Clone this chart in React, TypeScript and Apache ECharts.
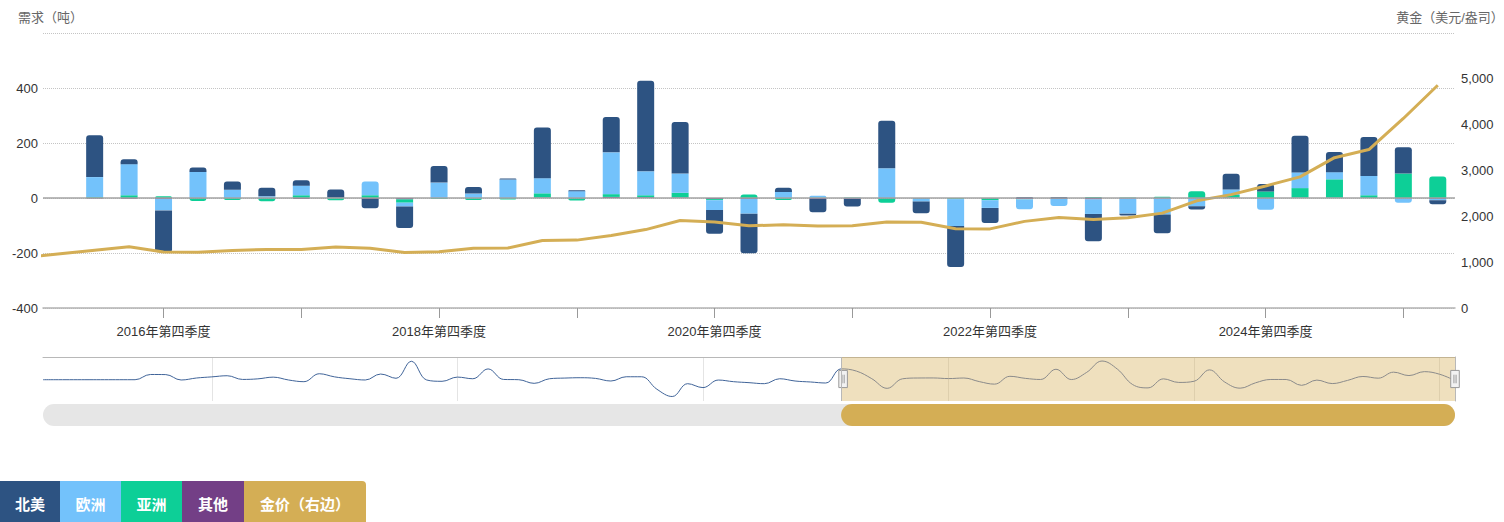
import React, { useEffect, useRef } from 'react';
import * as echarts from 'echarts';

// ---------- data ----------
const QUARTER_NAMES = ['第一季度', '第二季度', '第三季度', '第四季度'];
const FIRST_YEAR = 2003;
const QUARTER_COUNT = 93; // 2003年第一季度 … 2026年第一季度
const categories: string[] = Array.from(
  { length: QUARTER_COUNT },
  (_, i) => `${FIRST_YEAR + Math.floor(i / 4)}年${QUARTER_NAMES[i % 4]}`
);

// visible window of the main chart (category indices)
const WINDOW_START = 52; // 2016年第一季度
const WINDOW_END = 92; // 2026年第一季度
// first quarter whose bars are drawn (2016年第二季度)
const FIRST_BAR_INDEX = 53;

// gold price, USD/oz (quarterly averages), 2003Q1 … 2026Q1
const goldPrice = [
  352, 347, 363, 392,
  408, 393, 401, 434,
  427, 427, 440, 485,
  554, 628, 622, 614,
  650, 667, 680, 788,
  925, 896, 872, 795,
  908, 922, 960, 1100,
  1109, 1197, 1227, 1367,
  1386, 1506, 1702, 1688,
  1691, 1609, 1652, 1722,
  1632, 1415, 1326, 1272,
  1293, 1288, 1282, 1201,
  1218, 1192, 1124, 1106,
  1183, 1260, 1335, 1222,
  1219, 1257, 1278, 1275,
  1329, 1306, 1213, 1226,
  1304, 1309, 1472, 1481,
  1583, 1711, 1909, 1874,
  1794, 1816, 1789, 1795,
  1877, 1871, 1729, 1726,
  1890, 1976, 1929, 1971,
  2070, 2338, 2474, 2663,
  2860, 3280, 3457, 4135,
  4860,
];

// North America (tonnes), 2003Q1 … 2026Q1 (also shown in the navigator)
const naFlows = [
  0, 0, 0, 0,
  0, 0, 0, 92,
  90, -5, 30, 50,
  70, 5, 15, 45,
  -5, -35, 105, 50,
  17, -5, 100, 25,
  325, -5, -28, 46,
  17, 190, 5, 0,
  -64, 17, 29, 35,
  23, -23, 52, 52,
  -168, -296, -70, -139,
  -6, -35, -52, -70,
  17, -23, -40, -58,
  191, 152, 18, -152,
  16, 30, 31, 20,
  30, -33, -78, 60,
  24, 4, 184, 3,
  129, 329, 187, -86,
  -144, 15, -48, -27,
  173, -42, -149, -55,
  4, 4, -99, -7,
  -68, -12, 57, 27,
  133, 73, 142, 96,
  -15,
];

// Europe / Asia / Other (tonnes), 2016Q2 … 2026Q1
const euFlows = [
  73, 113, -42,
  95, 30, 6, 35,
  1, 50, -14, 56,
  16, 67, 55, 25,
  152, 87, 70, -36,
  -54, 22, 6, -1,
  108, -10, -98, -28,
  -36, -25, -53, -55,
  -58, -28, 20, -41,
  57, 26, 70, -15,
  -5,
];
const asiaFlows = [
  3, 10, 6,
  -9, -6, -10, 10,
  -7, 10, -12, -3,
  -6, -4, 15, -7,
  10, 7, 17, -4,
  13, -6, 2, 2,
  -15, -1, -3, -6,
  -1, -1, 4, 2,
  5, 25, 9, 24,
  35, 67, 10, 89,
  78,
];
const otherFlows = [
  -2, -3, -3,
  -2, -1, -2, -4,
  -1, -4, -5, -1,
  -1, -1, 2, -2,
  4, 3, 2, -4,
  -3, -1, -4, -3,
  -2, -2, -1, -2,
  -4, -3, -5, -2,
  -2, -2, 2, -2,
  1, 1, 0, -2,
  -3,
];

const yLeftTicks = { min: -400, max: 600, interval: 200 };
const yRightTicks = { min: 0, max: 6000, interval: 1000 };

// ---------- style ----------
const COLORS = {
  na: '#2d5382',
  eu: '#73c2fb',
  asia: '#0dcf97',
  other: '#733f86',
  gold: '#d4ae55',
};
const FONT = '"Liberation Sans", Arial, "Noto Sans CJK SC", sans-serif';

const legendItems = [
  { name: '北美', color: COLORS.na, width: 60 },
  { name: '欧洲', color: COLORS.eu, width: 61 },
  { name: '亚洲', color: COLORS.asia, width: 61 },
  { name: '其他', color: COLORS.other, width: 62 },
  { name: '金价（右边）', color: COLORS.gold, width: 122 },
];

const GRID_LEFT = 43;
const GRID_RIGHT = 49;
const CHART_W = 1504;
const PLOT_W = CHART_W - GRID_LEFT - GRID_RIGHT;

function buildOption() {
  const alignBars = (vals: number[], offset: number) =>
    categories.map((_, i) => (i >= offset && i - offset < vals.length ? vals[i - offset] : null));

  const stack = [
    { name: '其他', color: COLORS.other, values: alignBars(otherFlows, FIRST_BAR_INDEX) },
    { name: '亚洲', color: COLORS.asia, values: alignBars(asiaFlows, FIRST_BAR_INDEX) },
    { name: '欧洲', color: COLORS.eu, values: alignBars(euFlows, FIRST_BAR_INDEX) },
    {
      name: '北美',
      color: COLORS.na,
      values: categories.map((_, i) => (i >= FIRST_BAR_INDEX ? naFlows[i] : null)),
    },
  ];

  // rounded ends only on the outermost segment of each stack
  const R = 3;
  const barSeries = stack.map((s, si) => ({
    name: s.name,
    type: 'bar',
    stack: 'flows',
    xAxisIndex: 0,
    yAxisIndex: 0,
    barWidth: 17,
    itemStyle: { color: s.color },
    data: s.values.map((v, i) => {
      if (v == null) return null;
      let topPos = -1;
      let topNeg = -1;
      stack.forEach((o, oi) => {
        const ov = o.values[i];
        if (ov != null && ov > 0) topPos = oi;
        if (ov != null && ov < 0) topNeg = oi;
      });
      let radius: number[] = [0, 0, 0, 0];
      if (v > 0 && topPos === si) radius = [R, R, 0, 0];
      if (v < 0 && topNeg === si) radius = [0, 0, R, R];
      return { value: v, itemStyle: { borderRadius: radius } };
    }),
  }));

  const splitFrac = WINDOW_START / (QUARTER_COUNT - 1);
  const thumbX = GRID_LEFT + splitFrac * PLOT_W;

  const navLineColor = {
    type: 'linear',
    x: GRID_LEFT,
    y: 0,
    x2: GRID_LEFT + PLOT_W,
    y2: 0,
    global: true,
    colorStops: [
      { offset: 0, color: '#3f6398' },
      { offset: splitFrac, color: '#3f6398' },
      { offset: splitFrac, color: '#8a8a8a' },
      { offset: 1, color: '#8a8a8a' },
    ],
  };

  return {
    animation: false,
    textStyle: { fontFamily: FONT },
    grid: [
      { left: GRID_LEFT, right: GRID_RIGHT, top: 33, height: 275, outerBoundsMode: 'none', containLabel: false },
      { left: GRID_LEFT, right: GRID_RIGHT, top: 357, height: 44, outerBoundsMode: 'none', containLabel: false },
    ],
    xAxis: [
      {
        type: 'category',
        gridIndex: 0,
        data: categories,
        boundaryGap: true,
        axisLine: { onZero: false, lineStyle: { color: '#b3b3b3', width: 1.5 } },
        axisTick: {
          show: true,
          alignWithLabel: true,
          length: 10,
          interval: (i: number) => i % 4 === 3,
          lineStyle: { color: '#999', width: 1 },
        },
        axisLabel: {
          interval: (i: number) => i % 8 === 7,
          color: '#333',
          fontSize: 13,
          margin: 17,
        },
        splitLine: { show: false },
      },
      {
        type: 'category',
        gridIndex: 1,
        data: categories,
        boundaryGap: false,
        position: 'top',
        axisLine: { show: true, onZero: false, lineStyle: { color: '#b8b8b8', width: 1 } },
        axisTick: { show: false },
        axisLabel: { show: false },
        splitLine: {
          show: true,
          interval: (i: number) => i % 16 === 11,
          lineStyle: { color: '#e4e4e4', width: 1 },
        },
      },
    ],
    yAxis: [
      {
        type: 'value',
        gridIndex: 0,
        ...yLeftTicks,
        name: '需求（吨）',
        nameGap: 9,
        nameTextStyle: { color: '#666', fontSize: 13, padding: [0, 0, 0, 15] },
        axisLine: { show: false },
        axisTick: { show: false },
        axisLabel: { showMaxLabel: false, color: '#333', fontSize: 13, margin: 5 },
        splitLine: { lineStyle: { type: 'dotted', color: '#c4c4c4', width: 1 } },
      },
      {
        type: 'value',
        gridIndex: 0,
        position: 'right',
        ...yRightTicks,
        name: '黄金（美元/盎司）',
        nameGap: 9,
        nameTextStyle: { color: '#666', fontSize: 13, padding: [0, 10, 0, 0] },
        axisLine: { show: false },
        axisTick: { show: false },
        axisLabel: {
          showMaxLabel: false,
          color: '#333',
          fontSize: 13,
          margin: 6,
          formatter: (v: number) => v.toLocaleString('en-US'),
        },
        splitLine: { show: false },
      },
      {
        type: 'value',
        gridIndex: 1,
        position: 'right',
        min: -375,
        max: 400,
        axisLine: { show: true, lineStyle: { color: '#b8b8b8', width: 1 } },
        axisTick: { show: false },
        axisLabel: { show: false },
        splitLine: { show: false },
      },
    ],
    dataZoom: [
      {
        type: 'slider',
        xAxisIndex: 0,
        filterMode: 'none',
        startValue: WINDOW_START,
        endValue: WINDOW_END,
        left: GRID_LEFT,
        right: GRID_RIGHT,
        top: 357,
        height: 44,
        showDataShadow: false,
        showDetail: false,
        brushSelect: false,
        moveHandleSize: 0,
        backgroundColor: 'transparent',
        borderColor: 'transparent',
        fillerColor: 'transparent',
        handleIcon: 'path://M0,0H8V16H0Z M3,4V12 M5,4V12',
        handleSize: '39%',
        handleStyle: { color: '#f2f2f2', borderColor: '#999', borderWidth: 1 },
      },
    ],
    graphic: [
      {
        type: 'rect',
        silent: true,
        shape: { x: GRID_LEFT, y: 404, width: PLOT_W, height: 22, r: 11 },
        style: { fill: '#e6e6e6' },
      },
      {
        type: 'rect',
        silent: true,
        shape: { x: thumbX, y: 404, width: GRID_LEFT + PLOT_W - thumbX, height: 22, r: 11 },
        style: { fill: COLORS.gold },
      },
    ],
    series: [
      ...barSeries,
      {
        name: '零线',
        type: 'line',
        xAxisIndex: 0,
        yAxisIndex: 0,
        data: [],
        silent: true,
        markLine: {
          silent: true,
          symbol: 'none',
          label: { show: false },
          lineStyle: { type: 'solid', color: '#a3a3a3', width: 1.5 },
          data: [{ yAxis: 0 }],
        },
      },
      {
        name: '金价（右边）',
        type: 'line',
        xAxisIndex: 0,
        yAxisIndex: 1,
        data: goldPrice,
        symbol: 'none',
        z: 3,
        itemStyle: { color: COLORS.gold },
        lineStyle: { color: COLORS.gold, width: 3 },
      },
      {
        name: '导航',
        type: 'line',
        xAxisIndex: 1,
        yAxisIndex: 2,
        data: naFlows,
        symbol: 'none',
        smooth: 0.4,
        silent: true,
        lineStyle: { width: 1, color: navLineColor },
        markArea: {
          silent: true,
          itemStyle: { color: 'rgba(212,174,85,0.38)' },
          data: [[{ xAxis: WINDOW_START }, { xAxis: WINDOW_END }]],
        },
        markLine: {
          silent: true,
          symbol: 'none',
          label: { show: false },
          lineStyle: { type: 'solid', color: '#b8b8b8', width: 1 },
          data: [{ xAxis: WINDOW_START }],
        },
      },
    ],
  };
}

export default function App() {
  const ref = useRef<HTMLDivElement>(null);

  useEffect(() => {
    if (!ref.current) return;
    const chart = echarts.init(ref.current, null, { renderer: 'svg' });
    chart.setOption(buildOption() as any);
    return () => chart.dispose();
  }, []);

  return (
    <div
      style={{
        position: 'absolute',
        left: 0,
        top: 0,
        width: CHART_W,
        height: 522,
        overflow: 'hidden',
        background: '#fff',
      }}
    >
      <div ref={ref} style={{ width: CHART_W, height: 481 }} />
      <div
        style={{
          position: 'absolute',
          left: 0,
          top: 481,
          height: 44,
          display: 'flex',
          fontFamily: '"Noto Sans CJK SC", "Liberation Sans", sans-serif',
          fontWeight: 700,
          fontSize: 15,
          color: '#fff',
        }}
      >
        {legendItems.map((it, i) => (
          <div
            key={it.name}
            style={{
              width: it.width,
              height: 44,
              background: it.color,
              display: 'flex',
              alignItems: 'center',
              justifyContent: 'center',
              borderTopRightRadius: i === legendItems.length - 1 ? 4 : 0,
            }}
          >
            {it.name}
          </div>
        ))}
      </div>
    </div>
  );
}
